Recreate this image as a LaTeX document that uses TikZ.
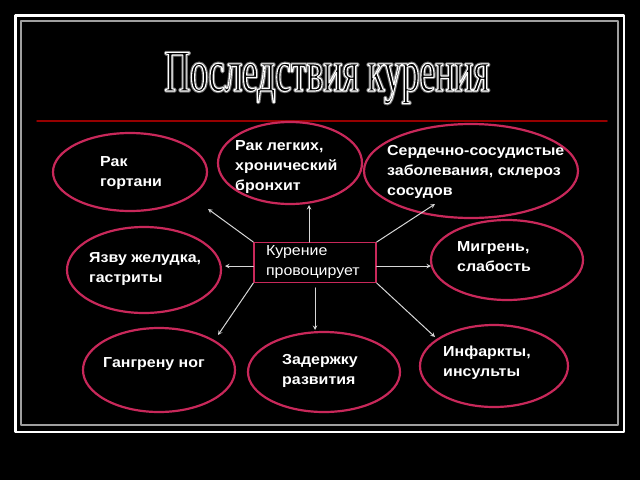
\documentclass[tikz,border=0pt]{standalone}
\usepackage{fontspec}
\setmainfont{Liberation Sans}[FakeStretch=1.1]
\newfontfamily\titlefont[FakeStretch=0.6]{Liberation Serif}
\usetikzlibrary{shapes.geometric}
\definecolor{rim}{RGB}{200,40,90}
\definecolor{rulered}{RGB}{150,0,0}
\definecolor{raygray}{RGB}{215,215,215}
% outlined text: glow underneath, white outline with black fill on top
\newcommand\glowtext[1]{\special{pdf:literal direct 1 Tr 3.2 w 0.45 G}#1\special{pdf:literal direct 0 Tr 0 w}}
\newcommand\hollowtext[1]{\special{pdf:literal direct 2 Tr 1.1 w 1 G 0 g}#1\special{pdf:literal direct 0 Tr 0 w}}
\tikzset{
  blob/.style={draw=rim,line width=2.2pt,ellipse,inner sep=0pt},
  blobtext/.style={text=white,font=\bfseries\fontsize{14.5}{20}\selectfont,align=left,anchor=west,inner sep=0pt},
  ray/.style={draw=raygray,line width=1pt,->}
}
\begin{document}
\begin{tikzpicture}[x=1pt,y=-1pt,>=stealth,line join=round,line cap=round,font=\fontsize{14.5}{20}\selectfont]
\fill[black] (0,0) rectangle (640,480);
\useasboundingbox (0,0) rectangle (640,480);
\draw[white,line width=2.5pt] (15.3,15.3) rectangle (624,432);
\draw[gray!75,line width=1.8pt] (21,21) rectangle (618,425);
\draw[rulered,line width=1.5pt] (37,121) -- (607,121);
% title
\node[anchor=base,inner sep=0pt,text=black,font=\titlefont\fontsize{59}{59}\selectfont] (title) at (327,91)
  {\rlap{\glowtext{Последствия курения}}\hollowtext{Последствия курения}};
% ellipses
\foreach \n/\x/\y/\rx/\ry in {gortan/130/172/77/39,lungs/290/163/72/41,heart/471/171/107/47,ulcer/144/270/77/43,migraine/507/260/76/40,legs/159/370/76/42,growth/324/372/76/40,stroke/494/366/74/41}
  \node[blob,minimum width=\rx*2pt,minimum height=\ry*2pt] (\n) at (\x,\y) {};
\foreach \n/\x/\y/\t in {gortanT/100/173/{Рак\\гортани},lungsT/235/167/{Рак легких,\\хронический\\бронхит},heartT/387/172/{Сердечно-сосудистые\\заболевания, склероз\\сосудов},ulcerT/89/269/{Язву желудка,\\гастриты},migraineT/457/257/{Мигрень,\\слабость},legsT/103/364/{Гангрену ног},growthT/282/371/{Задержку\\развития},strokeT/443/363/{Инфаркты,\\инсульты}}
  \node[blobtext] (\n) at (\x,\y) {\t};
% centre
\node[draw=rim,line width=1.2pt,fill=black,text=white,minimum height=37pt,text width=98pt,inner xsep=12pt,align=left] (smoke) at (315,262.5) {Курение\\провоцирует};
\path (208,209) coordinate (t1) (309,205) coordinate (t2) (435,204) coordinate (t3)
  (225,266) coordinate (t4) (431,266) coordinate (t5) (218,335) coordinate (t6)
  (315,330) coordinate (t7) (435,337) coordinate (t8);
\foreach \a/\t in {north west/t1,north east/t3,south west/t6,south east/t8}
  \draw[ray] (smoke.\a) -- (\t);
\draw[ray] (smoke.north -| t2) -- (t2);
\draw[ray,shorten <=5pt] (smoke.south -| t7) -- (t7);
\draw[ray] (smoke.west |- t4) -- (t4);
\draw[ray] (smoke.east |- t5) -- (t5);
\end{tikzpicture}
\end{document}
